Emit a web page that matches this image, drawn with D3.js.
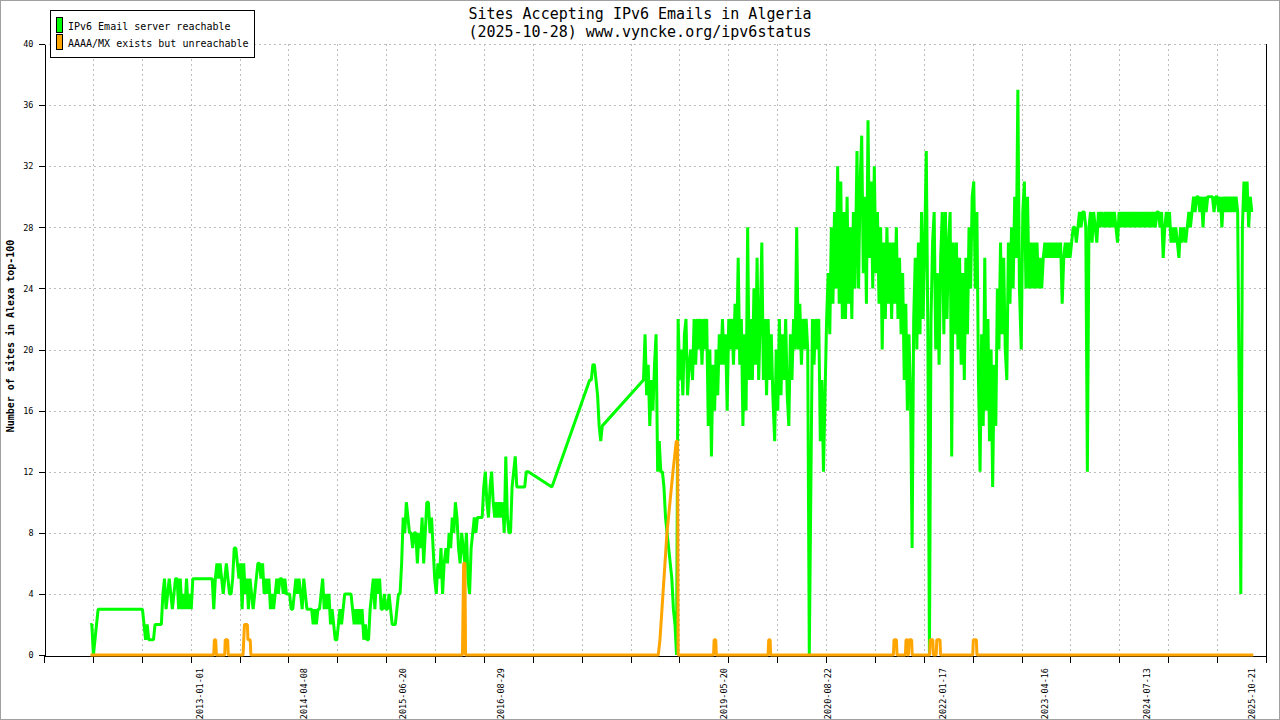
<!DOCTYPE html>
<html><head><meta charset="utf-8">
<script src="https://cdn.jsdelivr.net/npm/d3@7"></script>
<style>
body{margin:0;background:#fff}
svg{display:block}
text{font-family:"DejaVu Sans Mono",monospace;fill:#000}
</style>
</head><body>
<svg id="chart" width="1280" height="720"></svg>
<script>
// ---------- data ----------
const titleLines = ["Sites Accepting IPv6 Emails in Algeria", "(2025-10-28) www.vyncke.org/ipv6status"];
const yAxisTitle = "Number of sites in Alexa top-100";
const seriesNames = ["IPv6 Email server reachable", "AAAA/MX exists but unreachable"];
const seriesColors = ["#00ff00", "#ffa500"];
const yTicks = [0, 4, 8, 12, 16, 20, 24, 28, 32, 36, 40];
const xLabels = ["2013-01-01", "2014-04-08", "2015-06-20", "2016-08-29", "2019-05-20",
                 "2020-08-22", "2022-01-17", "2023-04-16", "2024-07-13", "2025-10-21"];
const xDomainYears = [2011.108, 2025.978];

// "IPv6 Email server reachable": weekly samples, week i = Jan 1 + 7*i of each year (null = no data)
const reach2011 = Array(35).fill(null).concat([2,2,0,1,2,3,3,3,3,3,3,3,3,3,3,3,3]);
const reach2012 = [3,3,3,3,3,3,3,3,3,3,3,3,3,3,3,3,3,2,1,2,1,1,1,1,2,2,2,2,2,4,5,3,4,5,4,3,4,5,5,3,5,3,4,3,5,3,4,3,5,5,5,5];
const reach2013 = [5,5,5,5,5,5,5,5,5,3,5,6,5,6,5,4,5,6,5,4,4,5,7,7,6,5,6,3,6,4,5,3,5,4,3,4,5,6,6,5,6,4,5,4,5,3,4,3,4,5,4,5];
const reach2014 = [5,4,5,4,4,4,3,3,4,5,4,5,4,3,5,4,3,3,3,3,2,3,2,3,3,4,5,3,4,3,4,2,3,2,1,1,2,3,2,3,4,4,4,4,4,3,2,3,2,3,2,3];
const reach2015 = [1,2,1,1,3,4,5,3,5,4,5,3,3,4,3,3,4,3,2,2,2,3,4,4,6,9,8,10,9,8,8,7,8,8,6,8,7,9,6,8,10,10,8,9,7,5,4,6,5,7,4,6];
const reach2016 = [7,6,8,7,9,8,10,9,7,6,8,7,6,8,5,4,7,8,9,8,9,9,9,9,11,12,10,9,11,12,10,9,10,9,10,9,10,8,13,9,8,8,11,12,13,11,11,11,11,11,11,12];
const reach2017 = [12,null,null,null,null,null,null,null,null,null,null,null,null,null,null,11,
  null,null,null,null,null,null,null,null,null,null,null,null,null,null,null,null,null,null,null,null,null,null,null,
  18,18,19,19,18,17,15,14,15];
const reach2018 = [null,null,null,null,null,null,null,null,null,null,null,null,null,null,null,null,null,null,null,null,null,
  18,21,17,19,15,18,16,19,21,12,14,12,12,11,9,8,7,6,5,3,2,0,22,18,20,17,21,22,17,19,20];
const reach2019 = [18,22,19,22,20,22,19,22,20,22,15,20,13,19,16,20,17,21,19,22,19,21,16,22,20,22,19,23,20,26,19,22,15,21,16,28,18,22,18,24,19,26,18,22,27,18,22,17,22,18,21,17];
const reach2020 = [14,20,16,22,17,21,18,22,17,15,21,18,22,20,28,20,23,19,22,20,22,20,0,11,22,19,22,20,22,14,18,12,17,22,25,21,28,23,29,24,32,23,31,22,29,22,30,23,28,22,29,24];
const reach2021 = [33,24,31,34,25,30,23,35,26,31,24,32,25,29,23,28,20,27,22,28,23,27,22,27,23,28,22,26,21,25,18,23,16,21,17,7,22,26,20,27,21,29,22,27,33,21,0,22,27,29,20,25];
const reach2022 = [19,26,29,21,29,22,27,29,13,27,21,27,20,26,19,25,18,26,21,28,24,30,31,24,29,18,12,21,15,26,16,22,14,20,11,19,15,24,20,27,21,26,20,18,27,23,28,24,30,26,37,24];
const reach2023 = [20,29,31,24,30,24,27,24,27,24,27,24,26,24,26,27,26,27,26,27,26,27,26,27,26,27,23,26,27,26,27,26,27,28,28,27,28,29,28,29,29,28,12,28,29,27,29,28,27,29,28,29];
const reach2024 = [28,29,28,29,28,29,28,29,28,27,29,28,29,28,29,28,29,28,29,28,29,28,29,28,29,28,29,28,29,28,29,28,29,28,29,29,28,29,26,28,29,28,29,27,28,27,28,27,26,28,27,28];
const reach2025 = [27,28,29,28,29,30,29,30,30,29,30,28,30,29,30,30,30,30,29,30,30,29,30,28,30,29,30,29,30,29,30,29,30,29,17,4,28,31,29,31,28,30,29];
const reachYears = [2011,2012,2013,2014,2015,2016,2017,2018,2019,2020,2021,2022,2023,2024,2025];
const reachArrays = [reach2011,reach2012,reach2013,reach2014,reach2015,reach2016,reach2017,reach2018,reach2019,reach2020,reach2021,reach2022,reach2023,reach2024,reach2025];

// "AAAA/MX exists but unreachable": [decimal year, count]
const unreachable = [
  [2011.6736,0],[2013.1716,0],[2013.1801,1],[2013.1959,1],[2013.2044,0],
  [2013.3054,0],[2013.3127,1],[2013.3419,1],[2013.3492,0],
  [2013.5293,0],[2013.5378,1],[2013.5464,2],[2013.5817,2],[2013.5889,1],[2013.6169,1],[2013.6242,0],
  [2016.2003,0],[2016.2076,3],[2016.2149,6],[2016.2307,6],[2016.2380,0],
  [2018.5829,0],[2018.6035,1],[2018.6157,2],[2018.6279,3],[2018.6400,4],[2018.6522,5],[2018.6644,6],
  [2018.6765,7],[2018.6887,8],[2018.7070,9],[2018.7252,10],[2018.7435,11],[2018.7618,12],[2018.7824,13],
  [2018.8019,14],[2018.8177,14],[2018.8250,0],
  [2019.2558,0],[2019.2631,1],[2019.2826,1],[2019.2899,0],
  [2019.9202,0],[2019.9275,1],[2019.9445,1],[2019.9518,0],
  [2021.4436,0],[2021.4509,1],[2021.4802,1],[2021.4875,0],
  [2021.5897,0],[2021.5970,1],[2021.6116,1],[2021.6189,0],
  [2021.6262,0],[2021.6335,1],[2021.6651,1],[2021.6724,0],
  [2021.8842,0],[2021.8915,1],[2021.9231,1],[2021.9304,0],
  [2021.9645,0],[2021.9718,1],[2022.0107,1],[2022.0180,0],
  [2022.4098,0],[2022.4171,1],[2022.4536,1],[2022.4609,0],
  [2025.8231,0]
];

// ---------- helpers ----------
function yearToDate(yf){
  const Y = Math.floor(yf), a = new Date(Y,0,1), b = new Date(Y+1,0,1);
  return new Date(+a + (yf - Y) * (b - a));
}
const parse = d3.timeParse("%Y-%m-%d");

const reachData = reachYears.flatMap((yr, k) =>
  reachArrays[k].map((v, i) => ({date: new Date(yr, 0, 1 + 7 * i), value: v})))
  .filter(d => d.value !== null);
const unreachData = unreachable.map(([yf, v]) => ({date: yearToDate(yf), value: v}));

// ---------- layout ----------
const svg = d3.select("#chart");
const L = 44, R = 1266, T = 44, B = 655;
const x = d3.scaleTime().domain(xDomainYears.map(yearToDate)).range([L, R]);
const y = d3.scaleLinear().domain([0, 40]).range([B, T]);
const [d0, d1] = x.domain();
const xTickVals = d3.range(26).map(k => new Date(+d0 + k * (d1 - d0) / 25));

svg.append("rect").attr("x",0.5).attr("y",0.5).attr("width",1279).attr("height",719)
  .attr("fill","#fff").attr("stroke","#a0a0a0");

// grid
const grid = svg.append("g").attr("stroke","#bdbdbd").attr("stroke-dasharray","2,3").attr("shape-rendering","crispEdges");
grid.selectAll(".h").data(yTicks.filter(t => t > 0)).join("line")
  .attr("x1", L).attr("x2", R).attr("y1", d => Math.round(y(d)) + 0.5).attr("y2", d => Math.round(y(d)) + 0.5);
grid.selectAll(".v").data(xTickVals.slice(1, -1)).join("line")
  .attr("x1", d => Math.round(x(d)) + 0.5).attr("x2", d => Math.round(x(d)) + 0.5).attr("y1", T).attr("y2", B);

// y axis
const gy = svg.append("g").attr("transform", `translate(${L + 0.5},0)`)
  .call(d3.axisLeft(y).tickValues(yTicks).tickSize(6).tickSizeOuter(0).tickPadding(5));
gy.selectAll("text").style("font-size","8.5px").style("font-family",'"DejaVu Sans Mono",monospace');
gy.selectAll("line,path").attr("stroke","#000").attr("shape-rendering","crispEdges");

// x axis ticks
const gx = svg.append("g").attr("transform", `translate(0,${B + 0.5})`)
  .call(d3.axisBottom(x).tickValues(xTickVals).tickSize(7).tickSizeOuter(0).tickFormat(""));
gx.selectAll("line,path").attr("stroke","#000").attr("shape-rendering","crispEdges");

// right frame line
svg.append("line").attr("x1", x.range()[1] + 0.5).attr("x2", x.range()[1] + 0.5)
  .attr("y1", y.range()[1]).attr("y2", y.range()[0] + 7).attr("stroke","#000").attr("shape-rendering","crispEdges");

// x labels at their dates
const gl = svg.append("g").attr("transform", `translate(0,${B})`)
  .call(d3.axisBottom(x).tickValues(xLabels.map(parse)).tickSize(0).tickFormat(d3.timeFormat("%Y-%m-%d")));
gl.select(".domain").remove();
gl.selectAll("text").attr("transform","rotate(-90)").attr("text-anchor","end")
  .attr("x",-13).attr("y",0).attr("dy","0.35em")
  .style("font-size","8.5px").style("font-family",'"DejaVu Sans Mono",monospace');

// y axis title
svg.append("text").attr("transform","translate(14.3,336) rotate(-90)").attr("text-anchor","middle")
  .style("font-size","10px").style("font-weight","bold").text(yAxisTitle);

// title
svg.selectAll(".title").data(titleLines).join("text")
  .attr("x", 640).attr("y", (d, i) => i ? 37 : 18.5).attr("text-anchor","middle")
  .style("font-size","15px").text(d => d);

// series lines
const line = d3.line().x(d => x(d.date)).y(d => y(d.value));
svg.append("path").datum(reachData).attr("d", line).attr("fill","none")
  .attr("stroke", seriesColors[0]).attr("stroke-width",3).attr("stroke-linejoin","bevel");
svg.append("path").datum(unreachData).attr("d", line).attr("fill","none")
  .attr("stroke", seriesColors[1]).attr("stroke-width",3).attr("stroke-linejoin","bevel");

// legend
const lg = svg.append("g");
lg.append("rect").attr("x",50.5).attr("y",10.5).attr("width",204).attr("height",47)
  .attr("fill","#fff").attr("stroke","#000");
seriesNames.forEach((name, i) => {
  lg.append("rect").attr("x",56.5).attr("y",17.5 + i * 17).attr("width",6).attr("height",15)
    .attr("fill", seriesColors[i]).attr("stroke","#000");
  lg.append("text").attr("x",68).attr("y",29.5 + i * 17.5).style("font-size","10px").text(name);
});
</script>
</body></html>
